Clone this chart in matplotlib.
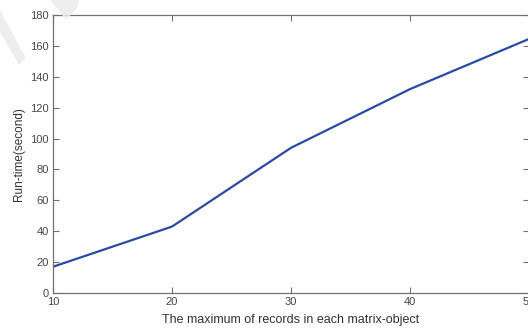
import matplotlib.pyplot as plt
from matplotlib.patches import Polygon

plt.rcParams['font.family'] = ['Liberation Sans', 'DejaVu Sans']

# run time for each record limit
max_records = [10, 20, 30, 40, 50]
run_time = [17, 43, 94, 132, 164.5]
x_ticks = [10, 20, 30, 40, 50]
y_ticks = list(range(0, 181, 20))

W, H = 528, 329
fig = plt.figure(figsize=(W / 100, H / 100), dpi=100)
ax = fig.add_axes([53 / W, (H - 293) / H, 476 / W, 278 / H])

ax.plot(max_records, run_time, color='#2b4aa6', linewidth=1.6)

ax.set_xlim(10, 50)
ax.set_ylim(0, 180)
ax.set_xticks(x_ticks)
ax.set_yticks(y_ticks)
ax.tick_params(direction='in', length=4, width=0.8, color='#707070',
               labelcolor='#464646', labelsize=8, top=True, right=True, pad=3)
for sp in ax.spines.values():
    sp.set_color('#707070')
    sp.set_linewidth(0.9)

ax.set_xlabel('The maximum of records in each matrix-object', fontsize=9,
              color='#333333', labelpad=5)
ax.set_ylabel('Run-time(second)', fontsize=8.5, color='#333333', labelpad=4)

# faint stamp strokes in the top-left corner
def px(pts):
    return [(x / W, 1 - y / H) for x, y in pts]

for pts in ([(0, 10), (0, 32), (19, 65), (26, 58)],
            [(50, 0), (79, 0), (77, 8), (66, 20)]):
    fig.patches.append(Polygon(px(pts), closed=True, transform=fig.transFigure,
                               facecolor='#ececec', edgecolor='none', alpha=0.85,
                               zorder=10))

fig.savefig('out.png', dpi=100)
